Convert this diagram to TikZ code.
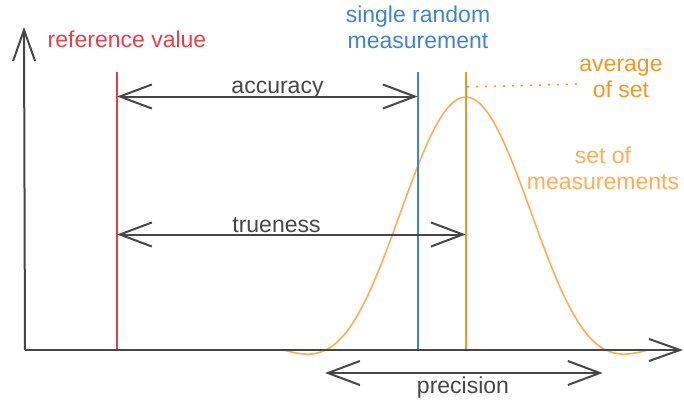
\documentclass[tikz,border=0pt]{standalone}
\usepackage{fontspec}
\setmainfont{Liberation Sans}
\usepackage{tikz}
\usetikzlibrary{arrows.meta}
\definecolor{refred}{RGB}{232,62,72}
\definecolor{oneblue}{RGB}{62,132,204}
\definecolor{avgorange}{RGB}{245,150,35}
\definecolor{setorange}{RGB}{255,172,85}
\definecolor{axisgray}{RGB}{70,70,70}
\tikzset{
  axis/.style={-{Straight Barb[length=31pt, width=22pt]}, line width=2pt, axisgray},
  span/.style={{Straight Barb[length=32pt, width=24pt]}-{Straight Barb[length=32pt, width=24pt]},
               line width=2pt, axisgray},
  valline/.style={line width=1.6pt},
  lbl/.style={font=\fontsize{23}{25.5}\selectfont, inner sep=0pt, anchor=base, align=center},
  spanlbl/.style={lbl, text=axisgray},
  guide/.style={avgorange, line width=1.5pt, dash pattern=on 2pt off 7pt}
}

\begin{document}
\begin{tikzpicture}[x=1pt, y=-1pt,
  declare function={sincx(\t)=sin(180*\t)/(pi*\t);}]
\useasboundingbox (0,0) rectangle (684,400);
% the set of measurements
\draw[setorange, line width=1.6pt] plot[domain=-1.3:1.3, samples=100, smooth]
  ({465.8+140*\x}, {350-253*sincx(\x)*sincx(\x/1.3)});
% values
\coordinate (ref-top) at (117,72);   \coordinate (ref-bot) at (117,350);
\coordinate (one-top) at (417.7,72); \coordinate (one-bot) at (417.7,350);
\coordinate (avg-top) at (465.8,72); \coordinate (avg-bot) at (465.8,350);
\draw[valline, refred] (ref-top) -- (ref-bot);
\draw[valline, oneblue] (one-top) -- (one-bot);
\draw[valline, avgorange] (avg-top) -- (avg-bot);
% axes
\coordinate (O) at (25,350);
\coordinate (ytip) at (24,27);
\coordinate (xtip) at (683,350);
\draw[axis] (O) -- (ytip);
\draw[axis] (O) -- (xtip);
% spans
\coordinate (acc-l) at (ref-top |- 0,96.5);
\coordinate (acc-r) at (one-top |- 0,96.5);
\coordinate (true-l) at (ref-top |- 0,234.5);
\coordinate (true-r) at (avg-top |- 0,234.5);
\coordinate (prec-l) at (325,373);
\coordinate (prec-r) at (602.7,373);
\draw[span] (acc-l) -- (acc-r);
\draw[span] (true-l) -- (true-r);
\draw[span] (prec-l) -- (prec-r);
\node[spanlbl] (acclbl) at (277.5,93) {accuracy};
\node[spanlbl] (truelbl) at (276.5,232) {trueness};
\node[spanlbl] (preclbl) at (463,393) {precision};
% labels
\node[lbl, text=refred] (reflbl) at (127,47) {reference value};
\node[lbl, text=oneblue] (onelbl) at (418,48) {single random\\measurement};
\node[lbl, text=avgorange] (avglbl) at (621,97) {average\\of set};
\node[lbl, text=setorange] (setlbl) at (603,189) {set of\\measurements};
\coordinate (peak) at (467,87);
\coordinate (avgnote) at (579,84);
\draw[guide] (peak) -- (avgnote);
\end{tikzpicture}
\end{document}
